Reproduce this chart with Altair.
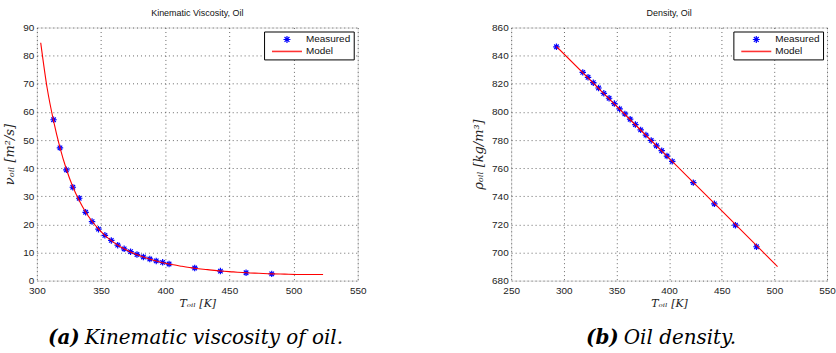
import altair as alt
import pandas as pd

# ---------------- data ----------------
visc_T = [313, 318, 323, 328, 333, 338, 343, 348, 353, 358, 363, 368, 373, 378,
          383, 388, 393, 398, 403, 423, 443, 463, 483]
visc_meas = [57.2, 47.2, 39.4, 33.2, 29.3, 24.3, 21.0, 18.3, 16.1, 14.3, 12.6, 11.3,
             10.3, 9.3, 8.4, 7.7, 7.0, 6.5, 5.9, 4.5, 3.4, 2.8, 2.4]
visc_model_T = [303, 308, 313, 318, 323, 328, 333, 338, 343, 348, 353, 358, 363, 368,
                373, 383, 393, 403, 413, 423, 433, 443, 453, 463, 473, 483, 493, 503, 513, 523]
visc_model = [84.6, 68.5, 56.8, 47.3, 39.6, 33.4, 28.5, 24.4, 21.1, 18.4, 16.1, 14.2,
              12.6, 11.3, 10.2, 8.4, 7.0, 5.9, 5.1, 4.4, 3.9, 3.4, 3.1, 2.8, 2.6, 2.4,
              2.3, 2.2, 2.2, 2.2]

dens_T = [293, 318, 323, 328, 333, 338, 343, 348, 353, 358, 363, 368, 373, 378,
          383, 388, 393, 398, 403, 423, 443, 463, 483]
dens_meas = [846.3, 828.1, 824.6, 820.8, 817.0, 813.2, 809.7, 805.9, 802.1, 798.6,
             794.8, 791.0, 787.2, 783.5, 779.7, 775.9, 772.4, 768.6, 764.8, 749.7,
             734.6, 719.4, 704.1]
dens_model_T = [293, 343, 403, 443, 503]
dens_model = [846.5, 809.3, 764.8, 734.9, 690.0]

series_names = ["Measured", "Model"]
visc_xticks = [300, 350, 400, 450, 500, 550]
visc_yticks = [0, 10, 20, 30, 40, 50, 60, 70, 80, 90]
dens_xticks = [250, 300, 350, 400, 450, 500, 550]
dens_yticks = [680, 700, 720, 740, 760, 780, 800, 820, 840, 860]

STAR = "M0,-1L0,1M-1,0L1,0M-0.7,-0.7L0.7,0.7M-0.7,0.7L0.7,-0.7"
LINE = "M-4.3,0L4.3,0"

SANS = "Liberation Sans"
SERIF = "DejaVu Serif"
CAP = "DejaVu Serif"


def panel(T, v, Tm, vm, xticks, yticks, title, ytitle, cap_a, cap_b, w, h,
          cap_a_end, cap_b_x):
    meas = pd.DataFrame({"T": T, "v": v, "series": "Measured"})
    model = pd.DataFrame({"T": Tm, "v": vm})
    xs = alt.Scale(domain=[xticks[0], xticks[-1]], nice=False, zero=False)
    ys = alt.Scale(domain=[yticks[0], yticks[-1]], nice=False, zero=False)
    xax = alt.Axis(values=xticks, tickCount=len(xticks), title="Tₒᵢₗ [K]", titleFont=SERIF,
                   titleFontStyle="italic", titleFontWeight="normal",
                   titleFontSize=11, titleColor="#222", titlePadding=2,
                   labelFont=SANS, labelFontSize=10, labelColor="#222",
                   labelPadding=5, ticks=False, domain=False, labelFlush=False,
                   labelOverlap=False,
                   grid=True, gridDash=[1, 3], gridColor="#444", gridWidth=0.8)
    yax = alt.Axis(values=yticks, tickCount=len(yticks), title=ytitle, titleFont=SERIF,
                   titleFontStyle="italic", titleFontWeight="normal",
                   titleFontSize=13, titleColor="#222", titlePadding=6,
                   labelFont=SANS, labelFontSize=10, labelColor="#222",
                   labelPadding=3, ticks=False, domain=False, labelFlush=False,
                   labelOverlap=False,
                   grid=True, gridDash=[1, 3], gridColor="#444", gridWidth=0.8)
    pts = alt.Chart(meas).mark_point(filled=False, opacity=1, size=42).encode(
        x=alt.X("T:Q", scale=xs, axis=xax),
        y=alt.Y("v:Q", scale=ys, axis=yax),
        color=alt.Color("series:N", scale=alt.Scale(domain=series_names, range=["#0000ff", "#ff3333"]),
                        legend=alt.Legend(title=None, orient="top-right", offset=4,
                                          fillColor="white", strokeColor="black",
                                          padding=3, labelFont=SANS, labelFontSize=10,
                                          labelColor="#111", labelOffset=14, rowPadding=1,
                                          symbolOffset=15, symbolSize=49,
                                          symbolOpacity=1)),
        shape=alt.Shape("series:N", scale=alt.Scale(domain=series_names, range=[STAR, LINE])),
        strokeWidth=alt.StrokeWidth("series:O", scale=alt.Scale(domain=series_names, range=[1.2, 1.6])),
    )
    line = alt.Chart(model).mark_line(strokeWidth=1.1, interpolate="monotone").encode(
        x=alt.X("T:Q", scale=xs, axis=xax), y=alt.Y("v:Q", scale=ys, axis=yax),
        color=alt.value("#ff0000"))
    capdf = pd.DataFrame({"a": [cap_a], "b": [cap_b]})
    ca = alt.Chart(capdf).mark_text(font=CAP, fontSize=20, fontStyle="italic", fontWeight="bold",
                                    align="right", baseline="middle", color="black").encode(
        text="a:N", x=alt.value(cap_a_end), y=alt.value(h + 58))
    cb = alt.Chart(capdf).mark_text(font=CAP, fontSize=20, fontStyle="italic",
                                    align="left", baseline="middle", color="black").encode(
        text="b:N", x=alt.value(cap_b_x), y=alt.value(h + 58))
    return alt.layer(pts, line, ca, cb).properties(
        width=w, height=h,
        title=alt.TitleParams(title, font=SANS, fontSize=9, fontWeight="normal",
                              color="#111", offset=5, anchor="middle"))


left = panel(visc_T, visc_meas, visc_model_T, visc_model, visc_xticks, visc_yticks,
             "Kinematic Viscosity, Oil", "νₒᵢₗ [m²/s]", "(a)", "Kinematic viscosity of oil.",
             322, 254, 43, 48)
right = panel(dens_T, dens_meas, dens_model_T, dens_model, dens_xticks, dens_yticks,
              "Density, Oil", "ρₒᵢₗ [kg/m³]", "(b)", "Oil density.", 317, 254, 108, 113)

chart = alt.hconcat(left, right, spacing=105).resolve_scale(
    color="independent", shape="independent", strokeWidth="independent"
).resolve_legend(color="independent", shape="independent",
                 strokeWidth="independent").properties(
    padding={"left": 3, "top": 7, "right": 0, "bottom": 0}
).configure_view(stroke="#111", strokeWidth=1.2).configure(background="white")

chart.save("out.html", embed_options={"renderer": "svg", "actions": False})
